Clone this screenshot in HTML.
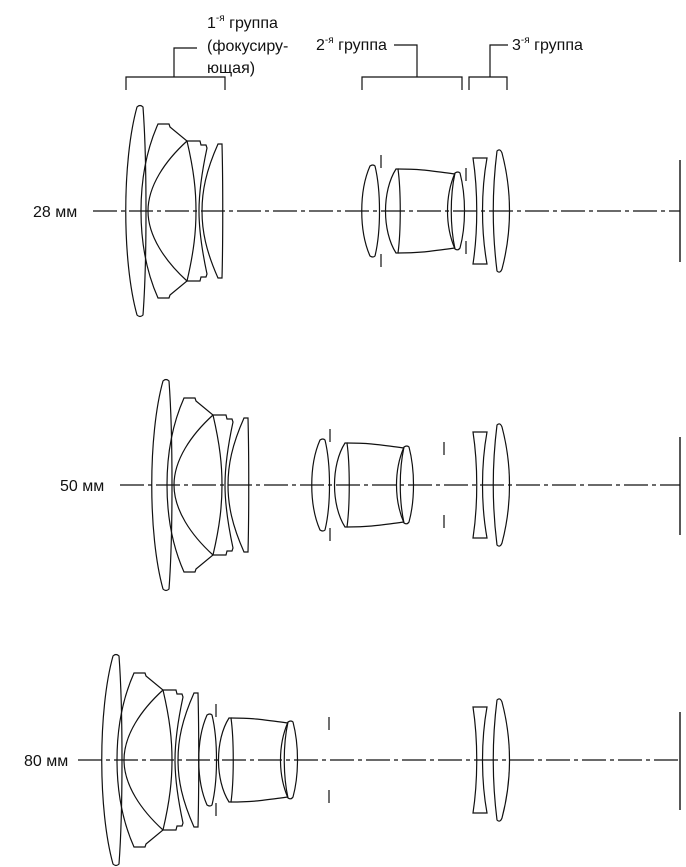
<!DOCTYPE html>
<html><head><meta charset="utf-8"><style>
html,body{margin:0;padding:0;background:#fff;}
svg{display:block;}
text{font-family:"Liberation Sans",sans-serif;font-size:16px;fill:#111;}
</style></head><body>
<svg width="686" height="867" viewBox="0 0 686 867" xmlns="http://www.w3.org/2000/svg">
<defs>
<g id="g1" fill="none" stroke="#111" stroke-width="1.2">
<path d="M137,-104 C122,-50 122,50 137,104 Q140,107 143,104 C147,50 147,-50 143,-104 Q140,-107 137,-104Z"/>
<path d="M158,-87 C146,-60 141,-30 141,0 C141,30 146,60 158,87 L169,87 L170,84 L187,70 C165,50 148,25 148,0 C148,-25 165,-50 187,-70 L170,-84 L169,-87 Z"/>
<path d="M187,-70 C194,-40 196,-20 196,0 C196,20 194,40 187,70 L200,70 L201,66 L206,66 L207,63 C201,35 199,15 199,0 C199,-15 201,-35 207,-63 L206,-66 L201,-66 L200,-70 Z"/>
<path d="M218,-67 C206,-40 202,-20 202,0 C202,20 206,40 218,67 L222,67 C223,30 223,-30 222,-67 Z"/>
</g>
<g id="g2a" fill="none" stroke="#111" stroke-width="1.2">
<path d="M370,-45 C359,-20 359,20 370,45 Q373,47 375,45 C381,20 381,-20 375,-45 Q373,-47 370,-45Z"/>
</g>
<g id="mk" stroke="#111" stroke-width="1.2">
<line x1="0" y1="-56" x2="0" y2="-43"/><line x1="0" y1="43" x2="0" y2="56"/>
</g>
<g id="mk2" stroke="#111" stroke-width="1.2">
<line x1="0" y1="-43" x2="0" y2="-30"/><line x1="0" y1="30" x2="0" y2="43"/>
</g>
<g id="g2b" fill="none" stroke="#111" stroke-width="1.2">
<path d="M396,-42 C382,-20 382,20 396,42 L398,42 C401,20 401,-20 398,-42 Z"/>
<path d="M398,-42 C422,-42 432,-40 455,-37 M398,42 C422,42 432,40 455,37"/>
<path d="M455,-38 C445,-15 445,15 455,38 Q458,40 460,37 C466,15 466,-15 460,-38 Q458,-40 455,-38Z"/>
<path d="M455,-38 C450,-15 450,15 455,38"/>
</g>
<g id="g3" fill="none" stroke="#111" stroke-width="1.2">
<path d="M473,-53 L487,-53 C481,-20 481,20 487,53 L473,53 C478,20 478,-20 473,-53Z"/>
<path d="M497,-60 C492,-20 492,20 497,60 Q500,63 502,58 C512,20 512,-20 502,-58 Q500,-63 497,-60Z"/>
</g>
</defs>

<g fill="none" stroke="#111" stroke-width="1.2">
<path d="M126,90 V77 H225 V90 M174,77 V48 H197"/>
<path d="M362,90 V77 H462 V90 M417,77 V45 H394"/>
<path d="M469,90 V77 H507 V90 M490,77 V45 H508"/>
</g>
<text x="207" y="28">1<tspan font-size="10" dy="-7">-я</tspan><tspan dy="7"> группа</tspan></text>
<text x="207" y="51">(фокусиру-</text>
<text x="207" y="73">ющая)</text>
<text x="316" y="50">2<tspan font-size="10" dy="-7">-я</tspan><tspan dy="7"> группа</tspan></text>
<text x="512" y="50">3<tspan font-size="10" dy="-7">-я</tspan><tspan dy="7"> группа</tspan></text>

<text x="33" y="217">28 мм</text>
<line x1="93" y1="211" x2="680" y2="211" stroke="#111" stroke-width="1.2" stroke-dasharray="24,4,4,4"/>
<line x1="680" y1="160" x2="680" y2="262" stroke="#111" stroke-width="1.4"/>
<use href="#g1" transform="translate(0,211)"/>
<use href="#g2a" transform="translate(0,211)"/>
<use href="#mk" transform="translate(381,211)"/>
<use href="#g2b" transform="translate(0,211)"/>
<use href="#mk2" transform="translate(466,211)"/>
<use href="#g3" transform="translate(0,211)"/>

<text x="60" y="491">50 мм</text>
<line x1="120" y1="485" x2="680" y2="485" stroke="#111" stroke-width="1.2" stroke-dasharray="24,4,4,4"/>
<line x1="680" y1="437" x2="680" y2="535" stroke="#111" stroke-width="1.4"/>
<use href="#g1" transform="translate(26,485)"/>
<use href="#g2a" transform="translate(-50,485)"/>
<use href="#mk" transform="translate(330,485)"/>
<use href="#g2b" transform="translate(-51,485)"/>
<use href="#mk2" transform="translate(444,485)"/>
<use href="#g3" transform="translate(0,485)"/>

<text x="24" y="766">80 мм</text>
<line x1="78" y1="760" x2="680" y2="760" stroke="#111" stroke-width="1.2" stroke-dasharray="24,4,4,4"/>
<line x1="680" y1="712" x2="680" y2="810" stroke="#111" stroke-width="1.4"/>
<use href="#g1" transform="translate(-24,760)"/>
<use href="#g2a" transform="translate(-163,760)"/>
<use href="#mk" transform="translate(216,760)"/>
<use href="#g2b" transform="translate(-167,760)"/>
<use href="#mk2" transform="translate(329,760)"/>
<use href="#g3" transform="translate(0,760)"/>
</svg>
</body></html>
